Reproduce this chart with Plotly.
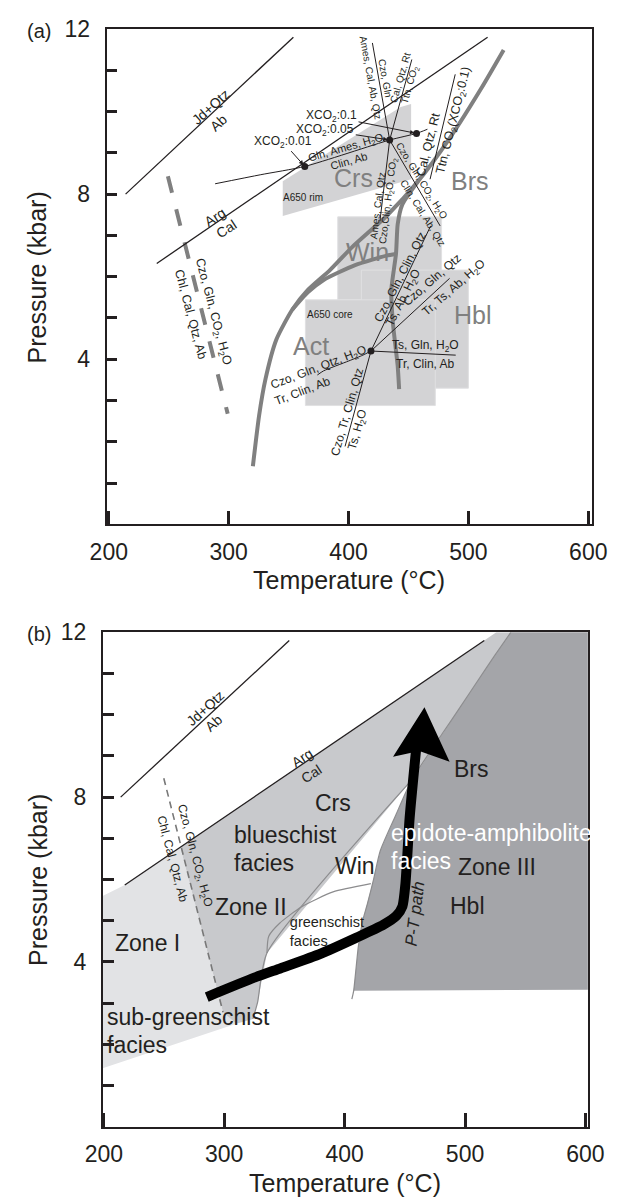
import plotly.graph_objects as go

# ======================= DATA =======================
# ---- panel (a): temperature (deg C) / pressure (kbar) ----
jd_T = [214, 354]
jd_P = [8.0, 11.8]
arg_a_T = [240, 516]
arg_a_P = [6.32, 11.8]
chl_a_T = [249.3, 299.2]
chl_a_P = [8.43, 2.68]

act_T = [320.2, 325.4, 330.7, 339.8, 353.0, 366.1, 384.5, 402.8, 431.7, 458.0, 484.3, 510.5, 529.4]
act_P = [1.41, 2.64, 3.52, 4.48, 5.20, 5.68, 6.16, 6.71, 7.47, 8.31, 9.35, 10.55, 11.49]
win_T = [353.0, 366.0, 379.2, 405.5, 431.7, 439.6]
win_P = [5.20, 5.62, 5.92, 6.28, 6.51, 6.55]
hbl_T = [442.2, 441.0, 437.0, 435.7, 439.6, 441.0, 444.9, 458.0]
hbl_P = [3.28, 3.84, 4.88, 5.68, 6.56, 7.27, 7.75, 8.31]

crs_T = [345.1, 443.5, 452.2, 452.2, 345.1]
crs_P = [8.31, 10.11, 10.18, 8.36, 7.47]
box_T0 = [391.0, 410.7, 364.0]
box_T1 = [477.6, 500.0, 472.4]
box_P0 = [5.44, 3.30, 2.88]
box_P1 = [7.45, 6.16, 5.44]

gln_T = [288.7, 326.8, 363.5, 434.3, 456.7, 465.8]
gln_P = [8.25, 8.47, 8.67, 9.31, 9.47, 9.57]
inv1_T, inv1_P = 434.3, 9.31
inv2_T, inv2_P = 418.7, 4.20
lineA_T = [419.9, inv1_T]; lineA_P = [11.66, inv1_P]
lineB_T = [452.8, inv1_T]; lineB_P = [11.26, inv1_P]
lineC_T = [inv1_T, 426.2]; lineC_P = [inv1_P, 7.35]
lineD_T = [inv1_T, 476.4]; lineD_P = [inv1_P, 7.23]
lineE_T = [489.0, 468.0]; lineE_P = [10.90, 8.36]
lineG_T = [inv2_T, 468.5]; lineG_P = [inv2_P, 7.23]
lineH_T = [inv2_T, 484.3]; lineH_P = [inv2_P, 5.96]
lineI_T = [inv2_T, 489.4]; lineI_P = [inv2_P, 4.10]
lineJ_T = [374.0, 379.2, 400.2, 412.0, inv2_T]; lineJ_P = [3.62, 3.72, 3.96, 4.10, inv2_P]
lineK_T = [inv2_T, 397.1]; lineK_P = [inv2_P, 1.89]
dot_T = [363.5, inv1_T, 456.7, inv2_T]
dot_P = [8.67, inv1_P, 9.47, inv2_P]

# ---- panel (b) ----
arg_b_T = [217.4, 516]
arg_b_P = [5.87, 11.8]
chl_b_T = [249.8, 299.0]
chl_b_P = [8.46, 2.78]
zone1_T = [199, 310, 299, 263.5, 217.4, 199]
zone1_P = [1.42, 2.50, 2.78, 6.79, 5.87, 5.60]
zone2_T = [263.5, 299.0, 310.0, 323.8, 327.7, 335.5, 455.8, 482, 495, 510, 525, 538, 526]
zone2_P = [6.79, 2.78, 2.50, 2.62, 3.02, 4.22, 8.42, 9.58, 10.14, 10.80, 11.45, 12.0, 12.0]
zone2_edge_T = [323.8, 327.7, 335.5, 455.8]
zone2_edge_P = [2.62, 3.02, 4.22, 8.42]
zone3_T = [407.5, 605, 605, 542, 538, 525, 510, 495, 482, 455.8, 442.7, 429.6, 424.0, 419.0, 415.0, 411.4, 407.5]
zone3_P = [3.30, 3.33, 12.3, 12.3, 12.0, 11.45, 10.80, 10.14, 9.58, 8.42, 7.58, 6.70, 6.00, 5.42, 5.00, 4.38, 3.30]
zone3_edge_T = [406.0, 407.5, 411.4, 415.0, 419.0, 424.0, 429.6, 442.7, 455.8, 482, 495, 510, 525, 538]
zone3_edge_P = [3.10, 3.30, 4.38, 5.00, 5.42, 6.00, 6.70, 7.58, 8.42, 9.58, 10.14, 10.80, 11.45, 12.0]
gs_T = [335.5, 336.9, 346.0, 364.3, 390.4, 421.8]
gs_P = [4.22, 4.62, 4.94, 5.34, 5.70, 5.90]
path_T = [285.5, 325.0, 347.0, 380.0, 409.0, 432.0, 443.0, 448.0, 450.5, 454.0, 459.5]
path_P = [3.15, 3.62, 3.85, 4.20, 4.58, 4.90, 5.12, 5.35, 5.90, 7.50, 9.20]
head_T = [466.3, 487.2, 462.0, 440.2]
head_P = [10.18, 8.86, 9.12, 8.98]

x_ticks = [200, 300, 400, 500, 600]
y_ticks = [4, 8, 12]

# ======================= STYLE / LAYOUT =======================
FONT = "Liberation Sans, Arial, Helvetica, sans-serif"
INK = "#231f20"
GCURVE = "rgb(128,128,128)"
GLABEL = "rgb(128,128,128)"
BOXC = "rgb(211,211,213)"
BOXEDGE = "rgb(224,224,226)"
LIGHT = "rgb(226,227,229)"
MEDIUM = "rgb(200,201,204)"
DARK = "rgb(164,165,169)"
EDGE = "rgb(140,140,142)"

PAGE_OFF = 8          # default body margin of the page
W, H = 623, 1197

def fx(px):
    return (px - PAGE_OFF) / W

def fy(py):
    return 1 - (py - PAGE_OFF) / H

fig = go.Figure()

def add_line(T, P, ax, color=INK, width=1.2, dash=None):
    fig.add_trace(go.Scatter(x=T, y=P, mode="lines", xaxis=ax[0], yaxis=ax[1],
                             line=dict(color=color, width=width, dash=dash, shape="spline", smoothing=0.6),
                             hoverinfo="skip", showlegend=False))

def add_poly(T, P, ax, fill, edge=None, ew=0):
    fig.add_trace(go.Scatter(x=T, y=P, mode="lines", fill="toself", fillcolor=fill, xaxis=ax[0], yaxis=ax[1],
                             line=dict(color=edge if edge else fill, width=ew),
                             hoverinfo="skip", showlegend=False))

A = ("x", "y")
B = ("x2", "y2")

# ---------- panel (a) ----------
add_poly(crs_T, crs_P, A, BOXC)
for t0, t1, p0, p1 in zip(box_T0, box_T1, box_P0, box_P1):
    add_poly([t0, t1, t1, t0, t0], [p0, p0, p1, p1, p0], A, BOXC, BOXEDGE, 1)

add_line(chl_a_T, chl_a_P, A, GCURVE, 4, "17px,17px")
add_line(act_T, act_P, A, GCURVE, 4)
add_line(win_T, win_P, A, GCURVE, 4)
add_line(hbl_T, hbl_P, A, GCURVE, 4)

add_line(jd_T, jd_P, A, INK, 1.3)
add_line(arg_a_T, arg_a_P, A, INK, 1.3)
add_line(gln_T, gln_P, A, INK, 1.0)
for T, P in [(lineA_T, lineA_P), (lineB_T, lineB_P), (lineC_T, lineC_P), (lineD_T, lineD_P),
             (lineE_T, lineE_P), (lineG_T, lineG_P), (lineH_T, lineH_P), (lineI_T, lineI_P),
             (lineJ_T, lineJ_P), (lineK_T, lineK_P)]:
    add_line(T, P, A, INK, 1.0)
fig.add_trace(go.Scatter(x=dot_T, y=dot_P, mode="markers", xaxis="x", yaxis="y",
                         marker=dict(color=INK, size=7), hoverinfo="skip", showlegend=False))

# ---------- panel (b) ----------
add_poly(zone1_T, zone1_P, B, LIGHT)
add_poly(zone2_T, zone2_P, B, MEDIUM)
add_poly(zone3_T, zone3_P, B, DARK)
add_line(zone2_edge_T, zone2_edge_P, B, EDGE, 1.2)
add_line(zone3_edge_T, zone3_edge_P, B, EDGE, 1.2)
add_line(gs_T, gs_P, B, EDGE, 1.2)
add_line(jd_T, jd_P, B, INK, 1.3)
add_line(arg_b_T, arg_b_P, B, INK, 1.3)
add_line(chl_b_T, chl_b_P, B, "rgb(120,120,120)", 1.6, "7px,5px")
fig.add_trace(go.Scatter(x=[354.5, 354.5], y=[4.94, 4.48], mode="text", xaxis="x2", yaxis="y2",
                         text=["greenschist", "facies"], textposition="middle right",
                         textfont=dict(family=FONT, size=14.5, color=INK),
                         hoverinfo="skip", showlegend=False))
add_line(path_T, path_P, B, "black", 10)
add_poly(head_T, head_P, B, "black")

# ======================= ANNOTATIONS =======================
ann = []

def txt(s, T, P, ax, angle=0, size=11, color=INK, xanchor="center"):
    ann.append(dict(text=s, x=T, y=P, xref=ax[0], yref=ax[1], showarrow=False,
                    textangle=angle, xanchor=xanchor, yanchor="middle",
                    font=dict(family=FONT, size=size, color=color)))

def ptxt(s, px, py, size=20, angle=0, xanchor="center"):
    ann.append(dict(text=s, x=fx(px), y=fy(py), xref="paper", yref="paper", showarrow=False,
                    textangle=angle, xanchor=xanchor, yanchor="middle",
                    font=dict(family=FONT, size=size, color=INK)))

# panel (a) labels
for s, T, P in [("Crs", 404.2, 8.39), ("Brs", 501.3, 8.31), ("Win", 416.0, 6.59),
                ("Act", 368.7, 4.32), ("Hbl", 503.9, 5.08)]:
    txt(s, T, P, A, 0, 25, GLABEL)
txt("A650 rim", 362.2, 7.91, A, 0, 10)
txt("A650 core", 384.5, 5.09, A, 0, 10)

SUB2 = "<sub>2</sub>"
rx = [("Jd+Qtz", 284.8, 10.12, -42, 14), ("Ab", 291.3, 9.72, -42, 14),
      ("Arg", 288.7, 7.45, -33, 14), ("Cal", 297.9, 7.15, -33, 14),
      ("Czo, Gln, CO" + SUB2 + ", H" + SUB2 + "O", 286.9, 5.15, 75, 12.5),
      ("Chl, Cal, Qtz, Ab", 268.3, 5.10, 75, 12.5),
      ("Ames, Cal, Ab, Qtz", 418.6, 10.83, 79.5, 10), ("Czo, Gln", 430.4, 10.79, 79.5, 10),
      ("Cal, Qtz, Rt", 443.1, 10.83, -74, 10), ("Ttn, CO" + SUB2, 451.4, 10.63, -74, 10),
      ("Ames, Cal, Qtz", 423.9, 7.71, -83, 10), ("Czo,Clin, H" + SUB2 + "O, CO" + SUB2, 433.1, 7.83, -83, 10),
      ("Czo, Gln, CO" + SUB2 + ", H" + SUB2 + "O", 460.6, 8.31, 58, 10), ("Clin, Cal, Ab, Qtz", 462.5, 7.54, 58, 10),
      ("Gln, Ames, H" + SUB2 + "O", 398.1, 9.12, -16, 11), ("Clin, Ab", 400.2, 8.80, -16, 11),
      ("Cal, Qtz, Rt", 466.4, 9.19, -76, 12.5),
      ("Ttn, CO" + SUB2 + "(XCO" + SUB2 + ":0.1)", 488.2, 9.79, -76, 12.5),
      ("Czo, Gln, Qtz, H" + SUB2 + "O", 375.3, 3.80, -21, 12), ("Tr, Clin, Ab", 361.4, 3.24, -21, 12),
      ("Ts, Gln, H" + SUB2 + "O", 464.6, 4.32, 0, 12), ("Tr, Clin, Ab", 464.6, 3.88, 0, 12),
      ("Czo, Tr, Clin, Qtz", 398.9, 2.72, -74, 12), ("Ts, H" + SUB2 + "O", 408.1, 2.28, -74, 12),
      ("Czo, Gln, Clin, Qtz", 442.8, 6.00, -63, 12), ("Ts, Ab, H" + SUB2 + "O", 446.1, 5.48, -63, 12),
      ("Czo, Gln, Qtz", 469.5, 5.92, -41, 12), ("Tr, Ts, Ab, H" + SUB2 + "O", 488.4, 5.72, -41, 12)]
for s, T, P, a, sz in rx:
    txt(s, T, P, A, a, sz)

for s, tx, ty, hx, hy in [("XCO" + SUB2 + ":0.1", 385.8, 9.88, 456.7, 9.47),
                          ("XCO" + SUB2 + ":0.05", 380.6, 9.55, inv1_T, inv1_P),
                          ("XCO" + SUB2 + ":0.01", 345.1, 9.27, 363.5, 8.67)]:
    ann.append(dict(text=s, x=hx, y=hy, ax=tx, ay=ty, xref="x", yref="y", axref="x", ayref="y",
                    showarrow=True, arrowhead=2, arrowsize=0.9, arrowwidth=1, arrowcolor=INK,
                    standoff=2, font=dict(family=FONT, size=12, color=INK)))

# panel (b) labels
for s, T, P, a in [("Jd+Qtz", 284.5, 10.16, -42), ("Ab", 291.1, 9.80, -42),
                   ("Arg", 364.3, 8.96, -33), ("Cal", 372.2, 8.56, -33)]:
    txt(s, T, P, B, a, 14)
txt("Czo, Gln, CO" + SUB2 + ", H" + SUB2 + "O", 275.5, 6.58, B, 75, 12)
txt("Chl, Cal, Qtz, Ab", 257.1, 6.50, B, 75, 12)
for s, T, P in [("Crs", 390.4, 7.86), ("Win", 408.8, 6.34), ("Zone II", 322.5, 5.34),
                ("Zone I", 236.2, 4.46), ("Brs", 505.0, 8.69), ("Zone III", 526.7, 6.30),
                ("Hbl", 501.9, 5.36)]:
    txt(s, T, P, B, 0, 23)
for s, T, P in [("blueschist", 306.5, 7.08), ("facies", 306.5, 6.40),
                ("sub-greenschist", 201.0, 2.66), ("facies", 201.0, 1.98)]:
    txt(s, T, P, B, 0, 23, INK, "left")
for s, T, P in [("epidote-amphibolite", 436.5, 7.14), ("facies", 436.5, 6.46)]:
    txt(s, T, P, B, 0, 23, "white", "left")
txt("<i>P-T</i> <i>path</i>", 458.4, 5.18, B, -83, 17)

# panel letters and axis titles
ptxt("(a)", 7, 18, 20, 0, "left")
ptxt("(b)", 7, 628, 20, 0, "left")
ptxt("Temperature (°C)", 350, 573, 25)
ptxt("Temperature (°C)", 346, 1183, 25)
ptxt("Pressure (kbar)", 20, 267, 25, -90)
ptxt("Pressure (kbar)", 20, 876, 25, -90)

xa = dict(tickvals=x_ticks, ticktext=[str(v) for v in x_ticks], ticks="inside", ticklen=14, tickwidth=2.5,
          tickcolor=INK, showline=True, linecolor=INK, linewidth=1.8, mirror=True, showgrid=False,
          zeroline=False, ticklabelstandoff=6, ticklabeloverflow="allow",
          tickfont=dict(family=FONT, size=23, color=INK))
ya = dict(tickvals=y_ticks, ticktext=[str(v) for v in y_ticks], ticks="inside", ticklen=11, tickwidth=2.5,
          tickcolor=INK, showline=True, linecolor=INK, linewidth=1.8, mirror=True, showgrid=False,
          zeroline=False, range=[0, 12], ticklabelstandoff=10, ticklabeloverflow="allow",
          minor=dict(tick0=0, dtick=1, ticks="inside", ticklen=11, tickwidth=2.5, tickcolor=INK, showgrid=False),
          tickfont=dict(family=FONT, size=23, color=INK))

fig.update_layout(
    width=W, height=H, autosize=False,
    margin=dict(l=0, r=0, t=0, b=0),
    paper_bgcolor="white", plot_bgcolor="white",
    showlegend=False,
    xaxis=dict(xa, domain=[fx(93.3), fx(607.7)], range=[198.1, 603.1], anchor="y"),
    yaxis=dict(ya, domain=[fy(517), fy(16)], anchor="x"),
    xaxis2=dict(xa, domain=[fx(89.3), fx(603.3)], range=[199.1, 602.0], anchor="y2"),
    yaxis2=dict(ya, domain=[fy(1126), fy(626)], anchor="x2"),
    annotations=ann,
)

fig.write_html("out.html")
